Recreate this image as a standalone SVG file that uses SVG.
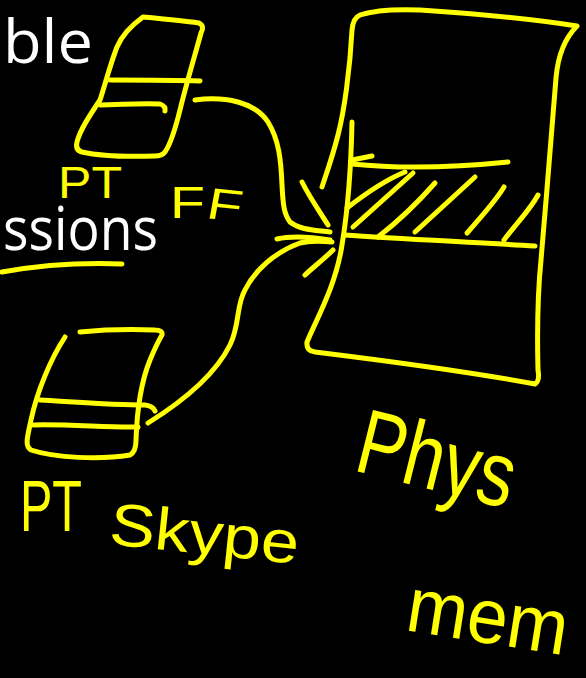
<svg xmlns="http://www.w3.org/2000/svg" width="586" height="678" viewBox="0 0 586 678">
  <style>
    .ink { fill: none; stroke: #FFFF00; stroke-width: 5; stroke-linecap: round; stroke-linejoin: round; }
    .slide { fill: #FFFFFF; font-family: "Open Sans", "Noto Sans", "Liberation Sans", sans-serif; font-size: 60px; }
    .hand { fill: #FFFF00; font-family: "Liberation Sans", "DejaVu Sans", sans-serif; }
  </style>
  <rect width="586" height="678" fill="#000000"/>

  <!-- slide text partly covered by the sketch -->
  <g id="slide-text">
    <text class="slide" x="3" y="63" textLength="90" lengthAdjust="spacingAndGlyphs">ble</text>
    <text class="slide" x="3" y="250" textLength="155" lengthAdjust="spacingAndGlyphs">ssions</text>
    <path class="ink" d="M2,272 C30,267 70,262 122,264"/>
  </g>

  <!-- page table for FF -->
  <g id="pt-ff">
    <path class="ink" d="M143,17 C165,19 185,21 199,23 Q205,26 201,33 C195,55 186,85 180,110 C175,130 170,145 165,152 Q162,156 155,156 C125,157 100,156 82,152 Q75,150 77,142 C80,130 90,115 100,100 C105,85 110,65 117,47 C122,35 132,25 143,17 Z"/>
    <path class="ink" d="M110,80 C140,80 175,80 200,81"/>
    <path class="ink" d="M100,105 C125,104 150,103 160,104 Q166,106 165,111"/>
    <text class="hand" font-size="44"><tspan x="58" y="198" textLength="64" lengthAdjust="spacingAndGlyphs">PT</tspan><tspan x="170" y="218" textLength="70" lengthAdjust="spacingAndGlyphs" rotate="0 8">FF</tspan></text>
  </g>

  <!-- page table for Skype -->
  <g id="pt-skype">
    <path class="ink" d="M65,337 C50,360 37,392 31,420 C28,435 24,446 31,450 C55,458 100,460 130,455 Q136,452 136,440 C137,410 141,382 150,360 C155,348 159,340 162,335 Q163,330 155,330 C130,329 100,330 80,332"/>
    <path class="ink" d="M40,400 C75,402 115,405 145,405 Q153,406 155,411"/>
    <path class="ink" d="M33,425 C70,424 110,428 138,427"/>
    <text class="hand" font-size="72" x="20" y="531" textLength="62" lengthAdjust="spacingAndGlyphs">PT</text>
    <text class="hand" font-size="60" x="108" y="544" textLength="190" lengthAdjust="spacingAndGlyphs" transform="rotate(6 108 544)">Skype</text>
  </g>

  <!-- physical memory with the shared, hatched frame -->
  <g id="phys-mem">
    <path class="ink" d="M352,122 C351,170 347,215 342,245 C336,285 317,318 307,342 Q306,351 315,352 C380,360 470,372 535,384 Q540,381 538,370 C537,330 538,290 541,260 C546,200 553,120 556,78 C558,55 565,38 577,26 C540,20 480,14 420,10 C395,9 372,11 360,15 Q353,18 352,30 C350,70 344,112 338,135 C333,155 327,172 322,187"/>
    <path class="ink" d="M352,160 L372,156"/>
    <path class="ink" d="M352,164 C390,168 440,169 508,162"/>
    <path class="ink" d="M344,235 C400,239 470,242 535,246"/>
    <path class="ink" d="M347,208 C365,194 385,180 405,172"/>
    <path class="ink" d="M353,227 L413,173"/>
    <path class="ink" d="M378,237 C400,220 420,200 435,183"/>
    <path class="ink" d="M415,232 L475,177"/>
    <path class="ink" d="M467,233 C480,218 495,202 504,187"/>
    <path class="ink" d="M504,240 C515,225 530,210 538,195"/>
    <text class="hand" font-size="92" x="352" y="470" textLength="160" lengthAdjust="spacingAndGlyphs" transform="rotate(14 352 470)">Phys</text>
    <text class="hand" font-size="78" x="404" y="630" textLength="162" lengthAdjust="spacingAndGlyphs" transform="rotate(9 404 630)">mem</text>
  </g>

  <!-- mapping arrows into physical memory -->
  <g id="connectors">
    <path class="ink" d="M195,100 C225,96 255,102 268,122 C279,140 281,160 282,185 C283,205 284,214 290,222 C300,230 315,230 330,232"/>
    <path class="ink" d="M148,423 C185,400 215,375 230,345 C240,325 236,305 245,290 C255,270 275,252 300,243 C312,240 322,241 332,242"/>
    <path class="ink" d="M277,239 C290,236 305,236 330,240"/>
    <path class="ink" d="M302,182 C310,198 320,212 328,225"/>
    <path class="ink" d="M305,275 C312,268 323,260 333,250"/>
  </g>
</svg>
